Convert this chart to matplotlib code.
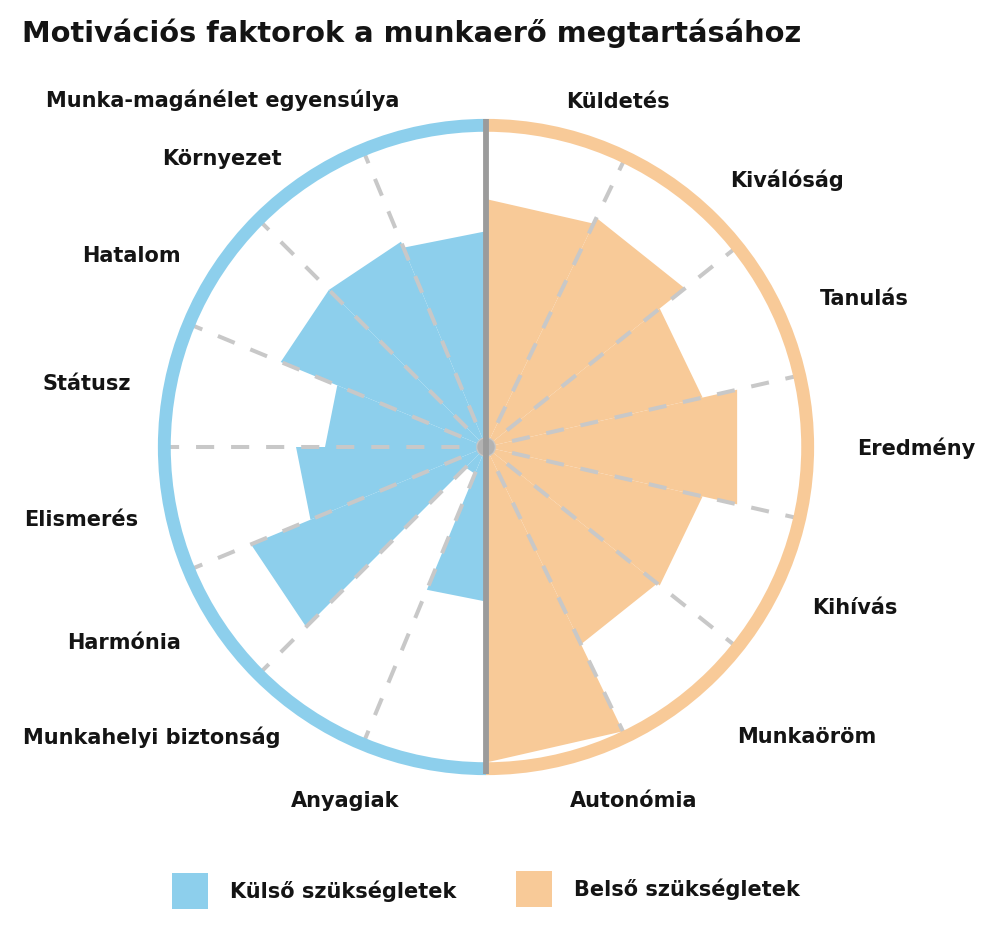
import numpy as np
import matplotlib
matplotlib.use("Agg")
from matplotlib import pyplot as plt
from matplotlib.patches import Wedge, Rectangle, Circle

# Data
outer_labels = ["Küldetés", "Kiválóság", "Tanulás", "Eredmény",
                "Kihívás", "Munkaöröm", "Autonómia"]
outer_values = [77, 79, 69, 80, 69, 68, 98]

inner_labels = ["Anyagiak", "Munkahelyi biztonság", "Harmónia", "Elismerés",
                "Státusz", "Hatalom", "Környezet", "Munka-magánélet egyensúlya"]
inner_values = [48, 9, 79, 59, 50, 69, 69, 67]

title = "Motivációs faktorok a munkaerő megtartásához"
legend_labels = ["Külső szükségletek", "Belső szükségletek"]

# Colours
blue = "#8dcfec"
orange = "#f8ca98"
spoke_color = "#c8c8c8"
axis_gray = "#9b9b9b"
text_color = "#141414"

plt.rcParams['font.family'] = ['DejaVu Sans']

W, H = 1000, 933
fig = plt.figure(figsize=(W / 100, H / 100), dpi=100)

# axes placed so that the centre sits at pixel (486, 447), 3.22 px per unit
cx, cy, scale = 486, 447, 3.22
span = 120
size_px = 2 * span * scale
ax = fig.add_axes([(cx - size_px / 2) / W, (H - cy - size_px / 2) / H,
                   size_px / W, size_px / H])
ax.set_xlim(-span, span)
ax.set_ylim(-span, span)
ax.set_aspect('equal')
ax.axis('off')


def xy(r, phi):
    # phi in degrees, clockwise from top
    a = np.radians(phi)
    return r * np.sin(a), r * np.cos(a)


def draw_half(values, start, color):
    step = 180 / len(values)
    edges = []
    for i, v in enumerate(values):
        p1 = start + i * step
        p2 = p1 + step
        x1, y1 = xy(v, p1)
        x2, y2 = xy(v, p2)
        ax.fill([0, x1, x2], [0, y1, y2], color=color, lw=0, zorder=1)
        if i > 0:
            edges.append(p1)
    return step, edges


step_r, edges_r = draw_half(outer_values, 0, orange)
step_l, edges_l = draw_half(inner_values, 180, blue)

# dashed spokes (drawn from the rim inwards so the dash pattern starts at the ring)
for phi in edges_r + edges_l:
    x, y = xy(101, phi)
    ax.plot([x, 0], [y, 0], color=spoke_color, lw=2.9,
            ls=(0, (4.5, 4.2)), zorder=2)

# outer ring
ax.add_patch(Wedge((0, 0), 101.9, -90, 90, width=4.0, color=orange, lw=0, zorder=3))
ax.add_patch(Wedge((0, 0), 101.9, 90, 270, width=4.0, color=blue, lw=0, zorder=3))

# vertical divider and centre dot
ax.plot([0, 0], [-101.5, 102], color=axis_gray, lw=4.2, zorder=4, solid_capstyle='butt')
ax.add_patch(Circle((0, 0), 2.7, color=axis_gray, alpha=0.45, lw=0, zorder=5))

# category labels, nudged (in pixels, y down) to match the layout
label_r = 112
nudge = {
    "Küldetés": (0, 7), "Kiválóság": (19, 15), "Tanulás": (9, 8),
    "Eredmény": (10, 1), "Kihívás": (1, 5), "Munkaöröm": (26, 8),
    "Autonómia": (4, 2),
    "Anyagiak": (-16, 0), "Munkahelyi biztonság": (-5, -10),
    "Harmónia": (-5, -4), "Elismerés": (6, 3), "Státusz": (-1, 7),
    "Hatalom": (-5, 9), "Környezet": (-4, 12),
    "Munka-magánélet egyensúlya": (-16, 7),
}


def put_label(lab, phi, ha):
    x, y = xy(label_r, phi)
    dx, dy = nudge.get(lab, (0, 0))
    ax.text(x + dx / scale, y - dy / scale, lab, ha=ha, va='center', fontsize=15,
            fontweight='bold', color=text_color)


for i, lab in enumerate(outer_labels):
    put_label(lab, (i + 0.5) * step_r, 'left')
for i, lab in enumerate(inner_labels):
    put_label(lab, 180 + (i + 0.5) * step_l, 'right')

# title
fig.text(22 / W, 1 - 33 / H, title, ha='left', va='center', fontsize=20.8,
         fontweight='bold', color=text_color)

# legend
for (px, py), lab, col in zip([(172, 891), (516, 889)], legend_labels, [blue, orange]):
    fig.patches.append(Rectangle((px / W, 1 - (py + 18) / H), 36 / W, 36 / H,
                                 transform=fig.transFigure, color=col, lw=0))
    fig.text((px + 58) / W, 1 - py / H, lab, ha='left', va='center',
             fontsize=15, fontweight='bold', color=text_color)

fig.savefig("out.png", dpi=100, facecolor='white')
